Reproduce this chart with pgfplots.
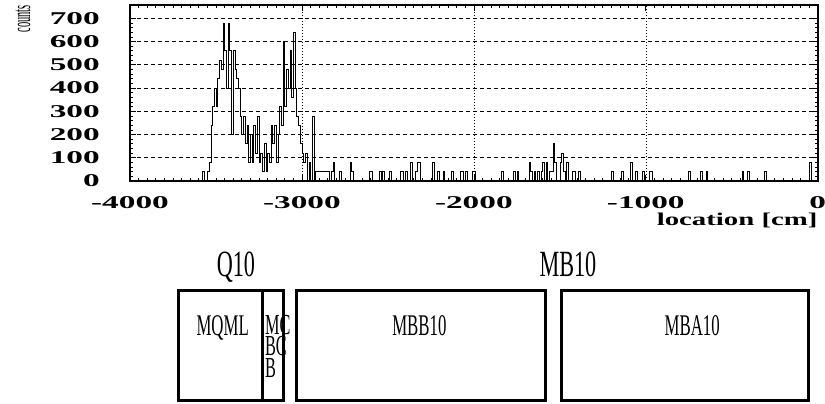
\documentclass[border=0pt]{standalone}
\usepackage{graphicx}
\usepackage{fontspec}
\setmainfont{Liberation Serif}
\newfontfamily\tickfont[FakeStretch=1.85]{Liberation Serif}
\newfontfamily\xlabfont[FakeStretch=1.6]{Liberation Serif}
\newfontfamily\narrowfont[FakeStretch=0.56]{Liberation Serif}
\newfontfamily\labfont[FakeStretch=0.6]{Liberation Serif}
\usepackage{pgfplots}
\pgfplotsset{compat=1.18}
\newcommand{\tf}{\tickfont\bfseries\fontsize{18}{18}\selectfont}
\newcommand{\xf}{\xlabfont\bfseries\fontsize{18}{18}\selectfont}
\begin{document}
\begin{tikzpicture}
\useasboundingbox (0,0) rectangle (825pt,404pt);
\begin{axis}[
  at={(130pt,223pt)}, anchor=south west,
  scale only axis, width=687.7pt, height=176pt,
  xmin=-4000, xmax=0, ymin=0, ymax=757,
  axis line style={line width=1.8pt},
  xtick={-4000,-3000,-2000,-1000,0},
  xticklabels={-4000,-3000,-2000,-1000,0},
  ytick={0,100,200,300,400,500,600,700},
  yticklabels={0,100,200,300,400,500,600,700},
  minor x tick num=19, minor y tick num=4,
  xtick pos=both, ytick pos=both, tick align=inside,
  major tick length=6pt, minor tick length=3pt,
  every tick/.style={black, line width=0.6pt},
  xmajorgrids, ymajorgrids,
  x grid style={black, line width=0.5pt, dash pattern=on 1pt off 2pt},
  y grid style={black, line width=0.5pt, dash pattern=on 4pt off 3pt},
  xticklabel style={font=\tf, anchor=north, inner sep=0pt, yshift=-15pt},
  yticklabel style={font=\tf, anchor=east, inner sep=0pt, xshift=-30pt},
  xlabel={location [cm]},
  every axis x label/.style={at={(rel axis cs:1,0)}, anchor=north east, inner sep=0pt, yshift=-32pt, font=\xf},
]
\addplot[const plot, black, line width=0.6pt] coordinates {
(-3600,0) (-3580,40) (-3570,0) (-3550,40) (-3540,80) (-3530,240) (-3520,320) (-3510,400)
(-3500,320) (-3490,440) (-3480,520) (-3470,480) (-3460,680) (-3450,560) (-3440,400) (-3430,680)
(-3420,560) (-3410,200) (-3400,560) (-3390,480) (-3380,440) (-3370,400) (-3360,280) (-3350,200)
(-3340,280) (-3330,160) (-3320,240) (-3310,80) (-3300,200) (-3290,80) (-3280,240) (-3270,120)
(-3260,280) (-3250,80) (-3240,120) (-3230,40) (-3220,160) (-3210,40) (-3200,120) (-3190,80)
(-3180,240) (-3170,160) (-3160,240) (-3150,80) (-3140,200) (-3130,320) (-3120,240) (-3110,600)
(-3100,320) (-3090,480) (-3080,400) (-3070,560) (-3060,360) (-3050,640) (-3040,400) (-3030,280)
(-3020,240) (-3010,160) (-3000,120) (-2990,80) (-2980,120) (-2970,0) (-2960,80) (-2950,0)
(-2940,280) (-2930,0)
(-2920,40) (-2910,40) (-2900,40) (-2890,40) (-2880,40) (-2870,40) (-2860,40) (-2850,40) (-2840,0)
(-2830,40) (-2820,80) (-2810,0)
(-2780,40) (-2770,0)
(-2720,80) (-2710,40) (-2700,0)
(-2610,40) (-2600,40) (-2590,0)
(-2550,40) (-2540,0) (-2530,40) (-2520,0)
(-2490,40) (-2480,0)
(-2430,40) (-2420,40) (-2410,0) (-2400,40) (-2390,0)
(-2370,80) (-2360,0)
(-2340,40) (-2330,80) (-2320,80) (-2310,0)
(-2240,80) (-2230,0)
(-2210,40) (-2200,0)
(-2180,40) (-2170,0)
(-2130,40) (-2120,0)
(-2080,40) (-2070,40) (-2060,0) (-2050,40) (-2040,0)
(-2010,40) (-2000,40) (-1990,0)
(-1840,40) (-1830,0)
(-1770,40) (-1760,0) (-1750,40) (-1740,0)
(-1680,80) (-1670,40) (-1660,0) (-1650,40) (-1640,0) (-1630,40) (-1620,0)
(-1610,40) (-1600,80) (-1590,0) (-1580,80) (-1570,0)
(-1560,40) (-1550,40) (-1540,160) (-1530,80) (-1520,0)
(-1500,80) (-1490,120) (-1480,40) (-1470,0) (-1460,80) (-1450,0)
(-1430,40) (-1420,40) (-1410,0) (-1390,40) (-1380,0)
(-1200,40) (-1190,0)
(-1140,40) (-1130,0)
(-1090,80) (-1080,0) (-1060,40) (-1050,0)
(-1020,40) (-1010,0)
(-980,40) (-970,40) (-960,0)
(-750,40) (-740,0)
(-680,40) (-670,0) (-650,40) (-640,0)
(-440,40) (-430,0) (-410,40) (-400,0)
(-310,40) (-300,0)
(-50,80) (-40,0) (0,0)
};
\end{axis}
\node[rotate=90, anchor=base east, inner sep=0pt] at (30pt,399pt) {\scalebox{0.4}[1]{\fontsize{26}{26}\selectfont counts}};
\begin{axis}[
  at={(130pt,3.5pt)}, anchor=south west,
  scale only axis, width=687.7pt, height=109.5pt,
  xmin=-4000, xmax=0, ymin=0, ymax=1,
  hide axis, clip=false,
]
\addplot[black, line width=3pt, line join=miter] coordinates {(-3719,0) (-3227,0) (-3227,1) (-3719,1)} -- cycle;
\addplot[black, line width=3pt, line join=miter] coordinates {(-3227,0) (-3106,0) (-3106,1) (-3227,1)} -- cycle;
\addplot[black, line width=3pt, line join=miter] coordinates {(-3029,0) (-1584,0) (-1584,1) (-3029,1)} -- cycle;
\addplot[black, line width=3pt, line join=miter] coordinates {(-1492,0) (-51,0) (-51,1) (-1492,1)} -- cycle;
\node[anchor=base, inner sep=0pt] at (axis cs:-3384,1.128) {\labfont\fontsize{37}{37}\selectfont Q10};
\node[anchor=base, inner sep=0pt] at (axis cs:-1453,1.128) {\labfont\fontsize{37}{37}\selectfont MB10};
\node[anchor=base, inner sep=0pt] at (axis cs:-3461,0.598) {\narrowfont\fontsize{30}{30}\selectfont MQML};
\node[anchor=base, inner sep=0pt] at (axis cs:-2317,0.598) {\narrowfont\fontsize{30}{30}\selectfont MBB10};
\node[anchor=base, inner sep=0pt] at (axis cs:-730,0.598) {\narrowfont\fontsize{30}{30}\selectfont MBA10};
\node[anchor=north west, inner sep=0pt] at (axis cs:-3215,0.781) {\parbox[t]{30pt}{\narrowfont\fontsize{29}{21.5}\selectfont MC\\BC\\B}};
\end{axis}
\end{tikzpicture}
\end{document}
